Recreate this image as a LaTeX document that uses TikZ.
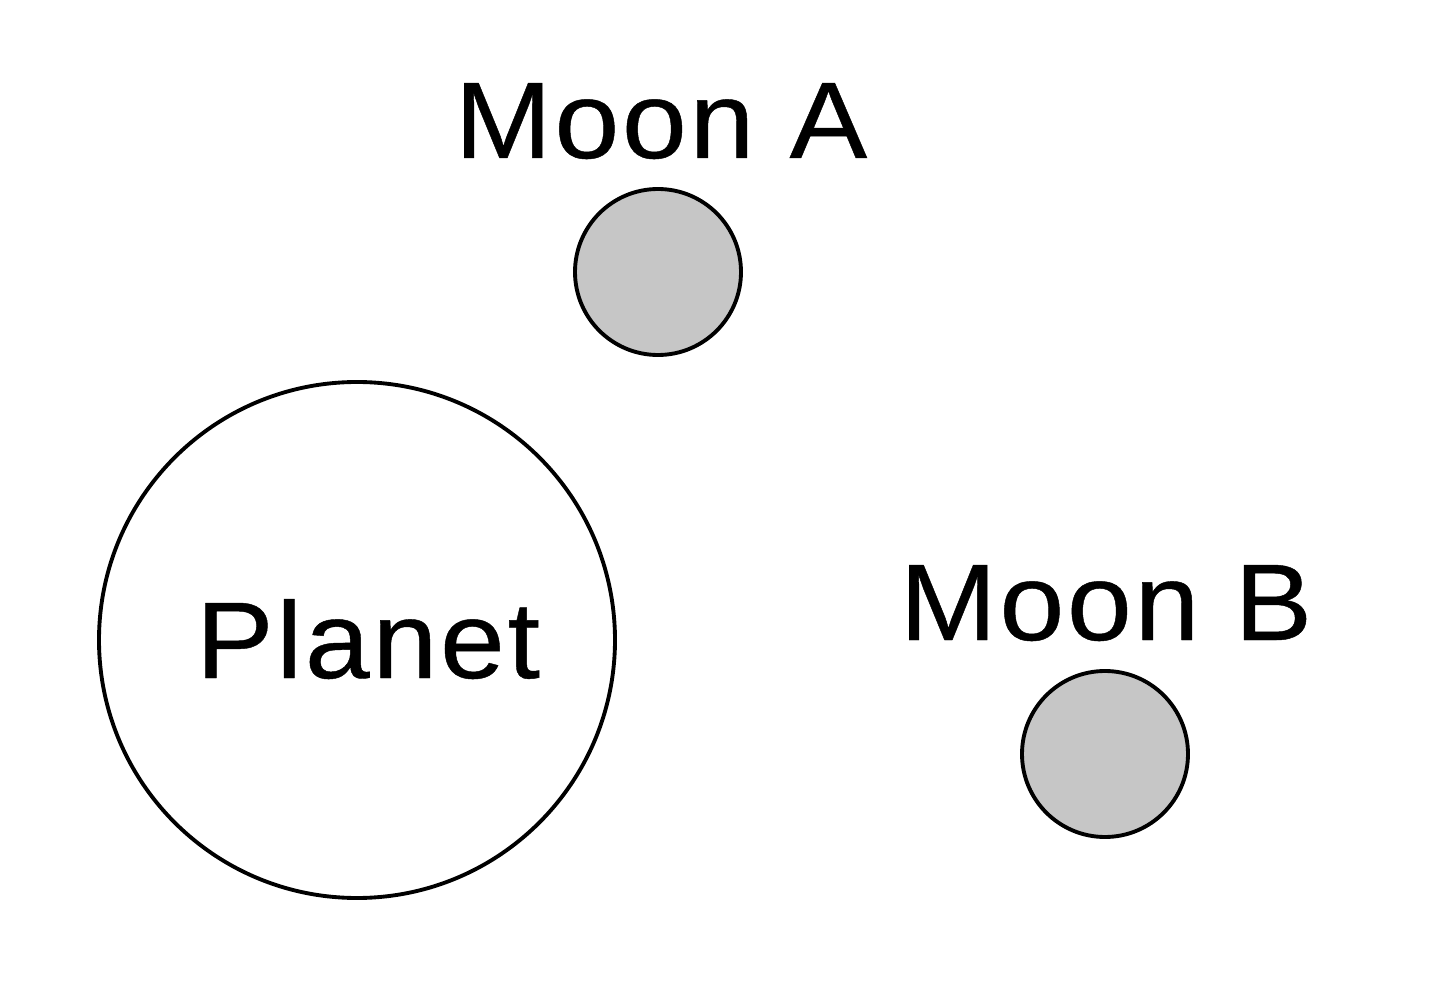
\documentclass[tikz,border=0pt]{standalone}
\usepackage{fontspec}
\setmainfont{Liberation Sans}
\newfontfamily\lblfont[FakeStretch=1.07,LetterSpace=2.5,FakeBold=0.4]{Liberation Sans}
\definecolor{moongray}{HTML}{C6C6C6}
\begin{document}
\begin{tikzpicture}[body/.style={circle, draw=black, line width=1.1pt, inner sep=0pt},
    lbl/.style={font=\lblfont\fontsize{31}{36}\selectfont, anchor=base}]
\useasboundingbox (0,0) rectangle (14.4,10.01);
\node[body, minimum size=5.16cm] (planet) at (3.57,3.61) {};
\node[body, fill=moongray, minimum size=1.66cm] (moonA) at (6.58,7.29) {};
\node[body, fill=moongray, minimum size=1.66cm] (moonB) at (11.05,2.47) {};
\node[lbl] (planetlbl) at (3.68,3.23) {Planet};
\node[lbl] (moonAlbl) at (6.61,8.43) {Moon A};
\node[lbl] (moonBlbl) at (11.06,3.61) {Moon B};
\end{tikzpicture}
\end{document}
